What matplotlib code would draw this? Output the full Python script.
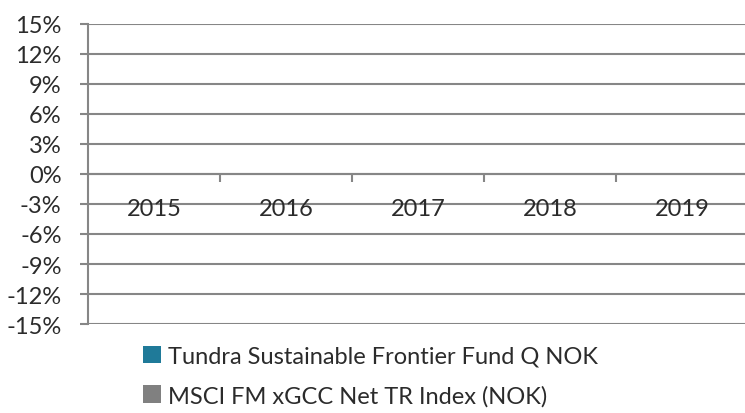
import numpy as np
import matplotlib.pyplot as plt
from matplotlib.ticker import FixedLocator, PercentFormatter

plt.rcParams['font.family'] = ['Lato', 'DejaVu Sans']
plt.rcParams['axes.unicode_minus'] = False

years = ['2015', '2016', '2017', '2018', '2019']
# no returns shown for these years in the source chart
fund = [np.nan, np.nan, np.nan, np.nan, np.nan]
index = [np.nan, np.nan, np.nan, np.nan, np.nan]
fund_name = 'Tundra Sustainable Frontier Fund Q NOK'
index_name = 'MSCI FM xGCC Net TR Index (NOK)'
y_ticks = [15, 12, 9, 6, 3, 0, -3, -6, -9, -12, -15]

grid_col = '#868686'
text_col = '#2b2b2b'
fs = 17

fig = plt.figure(figsize=(7.45, 4.14), dpi=100)
ax = fig.add_axes([88 / 745, 1 - 325 / 414, (748 - 88) / 745, 300 / 414])

x = np.arange(len(years))
w = 0.3
b1 = ax.bar(x - w / 2, fund, w, color='#1f7a99', label=fund_name)
b2 = ax.bar(x + w / 2, index, w, color='#808080', label=index_name)

ax.set_xlim(-0.5, len(years) - 0.5)
ax.set_ylim(-15, 15)
ax.yaxis.set_major_locator(FixedLocator(y_ticks))
ax.yaxis.set_major_formatter(PercentFormatter(decimals=0))
for v in y_ticks:
    ax.axhline(v, color=grid_col, lw=1.5, zorder=0)

for s in ['top', 'right']:
    ax.spines[s].set_visible(False)
ax.spines['left'].set_color(grid_col)
ax.spines['left'].set_linewidth(1.5)
ax.spines['bottom'].set_position(('data', 0))
ax.spines['bottom'].set_color(grid_col)
ax.spines['bottom'].set_linewidth(1.5)

ax.tick_params(axis='y', length=6, width=1.5, color=grid_col, pad=13,
               labelsize=fs, labelcolor=text_col)
ax.set_xticks(x)
ax.set_xticklabels(years)
ax.set_xticks(np.arange(0.5, len(years) - 1, 1), minor=True)
ax.tick_params(axis='x', which='major', length=0, pad=17,
               labelsize=fs, labelcolor=text_col)
ax.tick_params(axis='x', which='minor', length=6, width=1.5, color=grid_col)

fig.legend(handles=[b1, b2], loc='upper left', bbox_to_anchor=(143 / 745, 1 - 347 / 414),
           frameon=False, fontsize=fs, labelcolor=text_col, borderpad=0, borderaxespad=0,
           handlelength=0.75, handleheight=0.75, handletextpad=0.3, labelspacing=0.75)

fig.savefig('out.png', dpi=100)
